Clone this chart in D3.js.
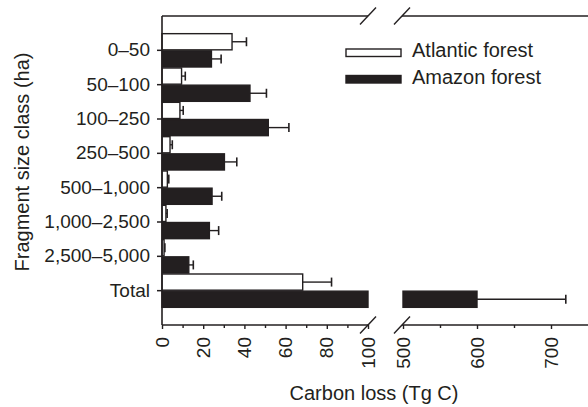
<!DOCTYPE html>
<html>
<head>
<meta charset="utf-8">
<script src="https://cdn.jsdelivr.net/npm/d3@7"></script>
<style>
  html, body { margin: 0; padding: 0; background: #fff; }
  svg { display: block; }
  text { font-family: "Liberation Sans", Arial, Helvetica, sans-serif; fill: #231f20; }
</style>
</head>
<body>
<svg id="chart" width="588" height="407"></svg>
<script>
// ---- data ----
const categories = ["0\u201350", "50\u2013100", "100\u2013250", "250\u2013500", "500\u20131,000", "1,000\u20132,500", "2,500\u20135,000", "Total"];
const seriesNames = ["Atlantic forest", "Amazon forest"];
const atlantic    = [34, 9.5, 8.7, 3.9, 2.6, 1.9, 1.0, 68.3];
const atlanticErr = [7, 1.8, 1.6, 1.1, 0.7, 0.6, 0.4, 14];
const amazon      = [24, 42.7, 51.6, 30.3, 24.3, 23, 13, 600];
const amazonErr   = [4.7, 8, 10, 6, 4.7, 4.5, 2.2, 120];
const ticksLow    = [0, 20, 40, 60, 80, 100];
const minorLow    = [10, 30, 50, 70, 90];
const ticksHigh   = [500, 600, 700];
const minorHigh   = [550, 650];
const breakLow = 100, breakHigh = 500;

const ink = "#231f20";
const svg = d3.select("#chart");

// ---- scales (broken x axis) ----
const plotLeft = 162, plotTop = 16, plotBottom = 325;
const xLow  = d3.scaleLinear().domain([0, breakLow]).range([plotLeft, 368]);
const xHigh = d3.scaleLinear().domain([breakHigh, 750]).range([403, 588]);
const y = d3.scaleBand().domain(categories).range([plotTop, plotBottom]).paddingInner(0).paddingOuter(0.5);
const sub = d3.scaleBand().domain(seriesNames).range([0, y.bandwidth()]).padding(0);
const x = v => v <= breakLow ? xLow(v) : xHigh(v);

// ---- build bar segments ----
const rows = categories.map((c, i) => ({
  cat: c,
  bars: [
    { series: seriesNames[0], v: atlantic[i], e: atlanticErr[i], fill: "#fff" },
    { series: seriesNames[1], v: amazon[i], e: amazonErr[i], fill: ink }
  ]
}));

const g = svg.append("g");
rows.forEach(r => {
  r.bars.forEach(b => {
    const y0 = y(r.cat) + sub(b.series);
    const h = sub.bandwidth();
    const segs = b.v <= breakLow ? [[0, b.v]] : [[0, breakLow], [breakHigh, b.v]];
    segs.forEach(([a, z]) => {
      g.append("rect")
        .attr("x", x(a)).attr("y", y0 + 0.5)
        .attr("width", Math.max(0, x(z) - x(a))).attr("height", h - 1)
        .attr("fill", b.fill).attr("stroke", ink).attr("stroke-width", 1.4);
    });
    // error bar
    const cy = y0 + h / 2;
    g.append("line").attr("x1", x(b.v)).attr("x2", x(b.v + b.e)).attr("y1", cy).attr("y2", cy)
      .attr("stroke", ink).attr("stroke-width", 1.4);
    g.append("line").attr("x1", x(b.v + b.e)).attr("x2", x(b.v + b.e)).attr("y1", cy - 4.5).attr("y2", cy + 4.5)
      .attr("stroke", ink).attr("stroke-width", 1.6);
  });
});

// ---- axes ----
const fontSize = 19;
// y axis
const yAxis = svg.append("g").attr("transform", `translate(${plotLeft},0)`)
  .call(d3.axisLeft(y).tickSize(5).tickPadding(7));
yAxis.select(".domain").remove();
yAxis.selectAll("line").attr("stroke", ink).attr("stroke-width", 1.5);
yAxis.selectAll("text").attr("font-size", fontSize).attr("fill", ink)
  .style("font-family", "'Liberation Sans', Arial, sans-serif");
svg.append("line").attr("x1", plotLeft).attr("x2", plotLeft).attr("y1", plotTop).attr("y2", plotBottom)
  .attr("stroke", ink).attr("stroke-width", 1.6);

// x axes (bottom)
function drawX(scale, major, minor) {
  const gM = svg.append("g").attr("transform", `translate(0,${plotBottom})`)
    .call(d3.axisBottom(scale).tickValues(major).tickSize(4).tickFormat(""));
  gM.select(".domain").remove();
  gM.selectAll("line").attr("stroke", ink).attr("stroke-width", 1.4);
  const gm = svg.append("g").attr("transform", `translate(0,${plotBottom})`)
    .call(d3.axisBottom(scale).tickValues(minor).tickSize(3).tickFormat(""));
  gm.select(".domain").remove();
  gm.selectAll("line").attr("stroke", ink).attr("stroke-width", 1.4);
  svg.append("g").selectAll("text").data(major).join("text")
    .attr("transform", d => `translate(${scale(d)},${plotBottom + 12}) rotate(-90)`)
    .attr("text-anchor", "end").attr("dy", "0.35em")
    .attr("font-size", fontSize).text(d => d);
}
drawX(xLow, ticksLow, minorLow);
drawX(xHigh, ticksHigh, minorHigh);

// axis lines with breaks (top and bottom)
[plotTop, plotBottom].forEach(yy => {
  svg.append("line").attr("x1", plotLeft).attr("x2", xLow(breakLow)).attr("y1", yy).attr("y2", yy)
    .attr("stroke", ink).attr("stroke-width", 1.6);
  svg.append("line").attr("x1", xHigh(breakHigh) - 1).attr("x2", 588).attr("y1", yy).attr("y2", yy)
    .attr("stroke", ink).attr("stroke-width", 1.6);
  [xLow(breakLow), xHigh(breakHigh) - 1].forEach(bx => {
    svg.append("line").attr("x1", bx - 8).attr("y1", yy + 8.5).attr("x2", bx + 8).attr("y2", yy - 8.5)
      .attr("stroke", ink).attr("stroke-width", 1.4);
  });
});

// ---- titles ----
svg.append("text").attr("x", 374).attr("y", 400).attr("text-anchor", "middle")
  .attr("font-size", 20).text("Carbon loss (Tg C)");
svg.append("text").attr("transform", "translate(29,162) rotate(-90)").attr("text-anchor", "middle")
  .attr("font-size", 20).text("Fragment size class (ha)");

// ---- legend ----
const leg = svg.append("g");
seriesNames.forEach((s, i) => {
  const ly = 49 + i * 26.5;
  leg.append("rect").attr("x", 346).attr("y", ly).attr("width", 55).attr("height", 7.5)
    .attr("fill", i === 0 ? "#fff" : ink).attr("stroke", ink).attr("stroke-width", 1.4);
  leg.append("text").attr("x", 412).attr("y", ly + 8).attr("font-size", 20).text(s);
});
</script>
</body>
</html>
